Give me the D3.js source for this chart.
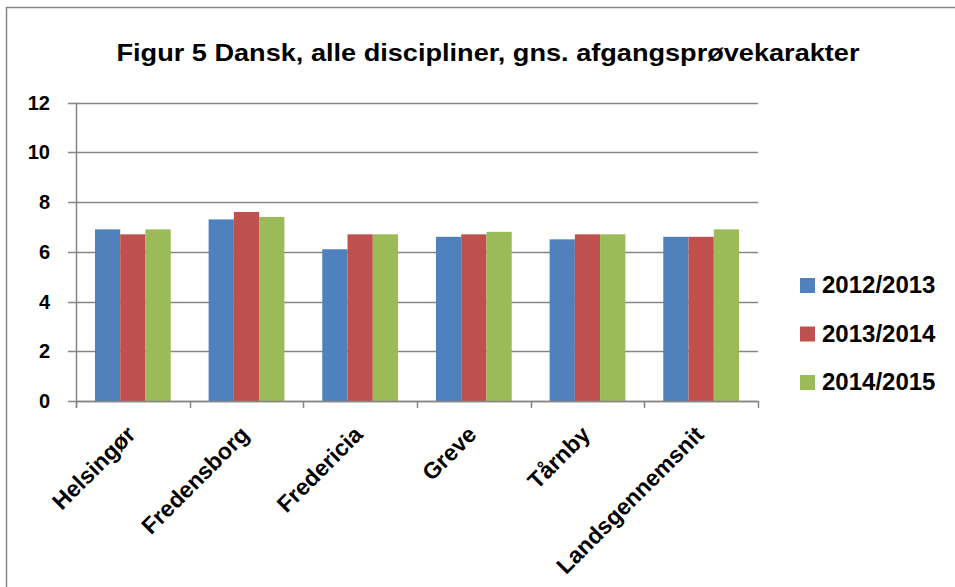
<!DOCTYPE html>
<html lang="da">
<head>
  <meta charset="UTF-8">
  <title>Figur 5</title>
  <style>
    body { margin: 0; background: #fff; }
    text { font-family: "Liberation Sans", Arial, sans-serif; font-weight: bold; fill: #000; }
  </style>
</head>
<body>
  <script src="https://d3js.org/d3.v7.min.js"></script>
  <script>
    // Data
    let kommuner = ["Helsingør", "Fredensborg", "Fredericia", "Greve", "Tårnby", "Landsgennemsnit"];
    let seriesNames = ["2012/2013", "2013/2014", "2014/2015"];
    let v2012 = [6.9, 7.3, 6.1, 6.6, 6.5, 6.6];
    let v2013 = [6.7, 7.6, 6.7, 6.7, 6.7, 6.6];
    let v2014 = [6.9, 7.4, 6.7, 6.8, 6.7, 6.9];
    let yTicks = [0, 2, 4, 6, 8, 10, 12];
    let colors = ["#4F81BD", "#C0504D", "#9BBB59"];

    let allValues = [v2012, v2013, v2014];

    let svgWidth = 955;
    let svgHeight = 587;
    let margin = { top: 102.5, left: 76, right: 197, bottom: 186 };

    let svg = d3.select("body").append("svg")
      .attr("width", svgWidth)
      .attr("height", svgHeight);

    // Outer chart border (runs off right/bottom edge like the screenshot)
    svg.append("rect")
      .attr("x", 6.5).attr("y", 7.5)
      .attr("width", 1000).attr("height", 700)
      .attr("fill", "none")
      .attr("stroke", "#868686")
      .attr("stroke-width", 1.5);

    let x = d3.scaleBand()
      .domain(kommuner)
      .range([margin.left, svgWidth - margin.right])
      .paddingInner(0).paddingOuter(0);

    // gap width 150% -> bars take 3 / 4.5 of band
    let barW = x.bandwidth() / 4.5;
    let xInner = d3.scaleBand()
      .domain(seriesNames)
      .range([barW * 0.75, x.bandwidth() - barW * 0.75]);

    let y = d3.scaleLinear()
      .domain([0, 12])
      .range([svgHeight - margin.bottom, margin.top]);

    // Gridlines
    svg.append("g")
      .selectAll("line")
      .data(yTicks)
      .enter().append("line")
      .attr("x1", margin.left - 8)
      .attr("x2", svgWidth - margin.right)
      .attr("y1", d => Math.round(y(d)) + 0.5)
      .attr("y2", d => Math.round(y(d)) + 0.5)
      .attr("stroke", "#868686")
      .attr("stroke-width", 1.5);

    // Y axis line
    svg.append("line")
      .attr("x1", margin.left + 0.5).attr("x2", margin.left + 0.5)
      .attr("y1", y(12)).attr("y2", y(0) + 7)
      .attr("stroke", "#868686").attr("stroke-width", 1.5);

    // Y labels
    svg.append("g")
      .selectAll("text")
      .data(yTicks)
      .enter().append("text")
      .attr("x", 50)
      .attr("y", d => y(d))
      .attr("dy", "0.36em")
      .attr("text-anchor", "end")
      .style("font-size", "20px")
      .text(d => d);

    // Bars
    let groups = svg.append("g")
      .selectAll("g")
      .data(kommuner)
      .enter().append("g")
      .attr("transform", d => `translate(${x(d)},0)`);

    groups.selectAll("rect")
      .data((d, i) => seriesNames.map((s, j) => ({ s, j, v: allValues[j][i] })))
      .enter().append("rect")
      .attr("x", d => xInner(d.s))
      .attr("width", xInner.bandwidth())
      .attr("y", d => y(d.v))
      .attr("height", d => y(0) - y(d.v))
      .attr("fill", d => colors[d.j]);

    // X axis line and ticks
    svg.append("line")
      .attr("x1", margin.left).attr("x2", svgWidth - margin.right + 0.5)
      .attr("y1", Math.round(y(0)) + 0.5).attr("y2", Math.round(y(0)) + 0.5)
      .attr("stroke", "#868686").attr("stroke-width", 1.5);

    let tickPos = kommuner.map(k => x(k)).concat([svgWidth - margin.right]);
    svg.append("g")
      .selectAll("line")
      .data(tickPos)
      .enter().append("line")
      .attr("x1", d => Math.round(d) + 0.5).attr("x2", d => Math.round(d) + 0.5)
      .attr("y1", y(0)).attr("y2", y(0) + 7)
      .attr("stroke", "#868686").attr("stroke-width", 1.5);

    // Category labels, rotated 45 degrees
    svg.append("g")
      .selectAll("text")
      .data(kommuner)
      .enter().append("text")
      .attr("text-anchor", "end")
      .attr("transform", d => `translate(${x(d) + x.bandwidth() / 2 + 4}, 436) rotate(-45)`)
      .style("font-size", "23px")
      .text(d => d);

    // Legend
    let legend = svg.append("g")
      .selectAll("g")
      .data(seriesNames)
      .enter().append("g")
      .attr("transform", (d, i) => `translate(800, ${278 + i * 48.5})`);

    legend.append("rect")
      .attr("width", 15).attr("height", 15)
      .attr("fill", (d, i) => colors[i]);

    legend.append("text")
      .attr("x", 22)
      .attr("y", 15)
      .style("font-size", "24px")
      .text(d => d);

    // Title
    svg.append("text")
      .attr("x", 488)
      .attr("y", 61)
      .attr("text-anchor", "middle")
      .attr("textLength", 743)
      .attr("lengthAdjust", "spacingAndGlyphs")
      .style("font-size", "24px")
      .text("Figur 5 Dansk, alle discipliner, gns. afgangsprøvekarakter");
  </script>
</body>
</html>
